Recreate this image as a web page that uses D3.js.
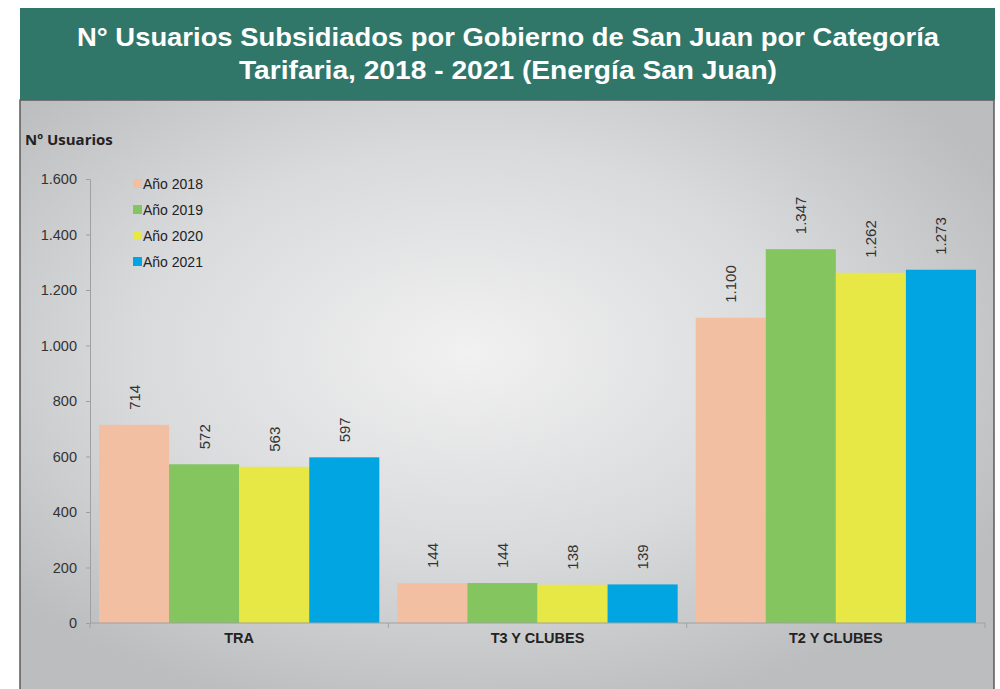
<!DOCTYPE html>
<html>
<head>
<meta charset="utf-8">
<script src="https://cdn.jsdelivr.net/npm/d3@7"></script>
<style>
  body { margin: 0; background: #fff; }
  svg { display: block; }
</style>
</head>
<body>
<div class="container"></div>
<script>
const w = 1000
const h = 689

// data
const categories = ['TRA', 'T3 Y CLUBES', 'T2 Y CLUBES']
const years = ['Año 2018', 'Año 2019', 'Año 2020', 'Año 2021']
const v2018 = [714, 144, 1100]
const v2019 = [572, 144, 1347]
const v2020 = [563, 138, 1262]
const v2021 = [597, 139, 1273]
const yTicks = [0, 200, 400, 600, 800, 1000, 1200, 1400, 1600]
const colors = ['#f2bfa3', '#84c55f', '#e7e745', '#00a5e2']

const series = [v2018, v2019, v2020, v2021]

const locale = d3.formatLocale({ decimal: ',', thousands: '.', grouping: [3], currency: ['$', ''] })
const fmt = locale.format(',')

const svg = d3.select('.container')
  .append('svg')
  .attr('width', w)
  .attr('height', h)

const defs = svg.append('defs')
const grad = defs.append('radialGradient')
  .attr('id', 'bg')
  .attr('cx', '0.46').attr('cy', '0.42').attr('r', '0.62')
grad.append('stop').attr('offset', '0%').attr('stop-color', '#f1f1f1')
grad.append('stop').attr('offset', '55%').attr('stop-color', '#d9dadc')
grad.append('stop').attr('offset', '100%').attr('stop-color', '#bcbdbf')

// panel
svg.append('rect')
  .attr('x', 20).attr('y', 100)
  .attr('width', 974).attr('height', 600)
  .attr('fill', 'url(#bg)')
  .attr('stroke', '#5a5a5a')
  .attr('stroke-width', 1.5)

// header
svg.append('rect')
  .attr('x', 20).attr('y', 8)
  .attr('width', 975).attr('height', 92)
  .attr('fill', '#30776a')

const title = svg.append('text')
  .attr('text-anchor', 'middle')
  .style('font-family', 'Liberation Sans, Arial, sans-serif')
  .style('font-weight', 'bold')
  .style('font-size', '26px')
  .attr('fill', '#fff')
title.append('tspan').attr('x', 508).attr('y', 46)
  .attr('textLength', 862).attr('lengthAdjust', 'spacingAndGlyphs')
  .text('N° Usuarios Subsidiados por Gobierno de San Juan por Categoría')
title.append('tspan').attr('x', 508).attr('y', 79)
  .attr('textLength', 538).attr('lengthAdjust', 'spacingAndGlyphs')
  .text('Tarifaria, 2018 - 2021 (Energía San Juan)')

svg.append('text')
  .text('Nº Usuarios')
  .attr('x', 25).attr('y', 145)
  .style('font-family', 'Open Sans, sans-serif')
  .style('font-weight', 'bold')
  .style('font-size', '15px')
  .attr('fill', '#222')

// scales
const left = 90, right = 985, y0 = 623, yTop = 179
const yScale = d3.scaleLinear().domain([0, 1600]).range([y0, yTop])
const x0 = d3.scaleBand().domain(categories).range([left, right]).padding(0)
const x1 = d3.scaleBand().domain(years).range([9, x0.bandwidth() - 9]).padding(0)

// y axis
const yAxis = d3.axisLeft(yScale)
  .tickValues(yTicks)
  .tickFormat(fmt)
  .tickSize(4)
  .tickPadding(9)
const gy = svg.append('g')
  .attr('transform', 'translate(' + left + ', 0)')
  .call(yAxis)
gy.select('.domain').attr('stroke', '#a0a0a0')
gy.selectAll('.tick line').attr('stroke', '#a0a0a0')
gy.selectAll('.tick text')
  .attr('fill', '#333')
  .style('font-family', 'Liberation Sans, Arial, sans-serif')
  .style('font-size', '14.5px')

// bars
const groups = svg.selectAll('.grp')
  .data(categories)
  .enter()
  .append('g')
  .attr('class', 'grp')
  .attr('transform', d => 'translate(' + x0(d) + ', 0)')

groups.selectAll('rect')
  .data((c, i) => years.map((yr, j) => ({ yr: yr, v: series[j][i], j: j })))
  .enter()
  .append('rect')
  .attr('x', d => x1(d.yr))
  .attr('y', d => yScale(d.v))
  .attr('width', x1.bandwidth())
  .attr('height', d => y0 - yScale(d.v))
  .attr('fill', d => colors[d.j])

groups.selectAll('.lbl')
  .data((c, i) => years.map((yr, j) => ({ yr: yr, v: series[j][i], j: j })))
  .enter()
  .append('text')
  .attr('class', 'lbl')
  .text(d => fmt(d.v))
  .attr('transform', d => 'translate(' + (x1(d.yr) + x1.bandwidth() / 2 + 5.5) + ',' + (yScale(d.v) - 15) + ') rotate(-90)')
  .attr('text-anchor', 'start')
  .attr('fill', '#333')
  .style('font-family', 'Liberation Sans, Arial, sans-serif')
  .style('font-size', '15px')

// x axis
const gx = svg.append('g')
  .attr('transform', 'translate(0, ' + y0 + ')')
gx.append('line')
  .attr('x1', left).attr('x2', right)
  .attr('stroke', '#a0a0a0')
gx.selectAll('.xt')
  .data(categories.map(c => x0(c)).concat([right]))
  .enter()
  .append('line')
  .attr('x1', d => d).attr('x2', d => d)
  .attr('y1', 0).attr('y2', 5)
  .attr('stroke', '#a0a0a0')
gx.selectAll('.xl')
  .data(categories)
  .enter()
  .append('text')
  .text(d => d)
  .attr('x', d => x0(d) + x0.bandwidth() / 2)
  .attr('y', 20)
  .attr('text-anchor', 'middle')
  .attr('fill', '#222')
  .style('font-family', 'Liberation Sans, Arial, sans-serif')
  .style('font-weight', 'bold')
  .style('font-size', '14.5px')

// legend
const legend = svg.selectAll('.leg')
  .data(years)
  .enter()
  .append('g')
  .attr('transform', (d, i) => 'translate(133, ' + (179 + i * 26) + ')')
legend.append('rect')
  .attr('width', 9).attr('height', 9)
  .attr('fill', (d, i) => colors[i])
legend.append('text')
  .text(d => d)
  .attr('x', 10).attr('y', 10)
  .attr('fill', '#222')
  .style('font-family', 'Liberation Sans, Arial, sans-serif')
  .style('font-size', '14px')
</script>
</body>
</html>
